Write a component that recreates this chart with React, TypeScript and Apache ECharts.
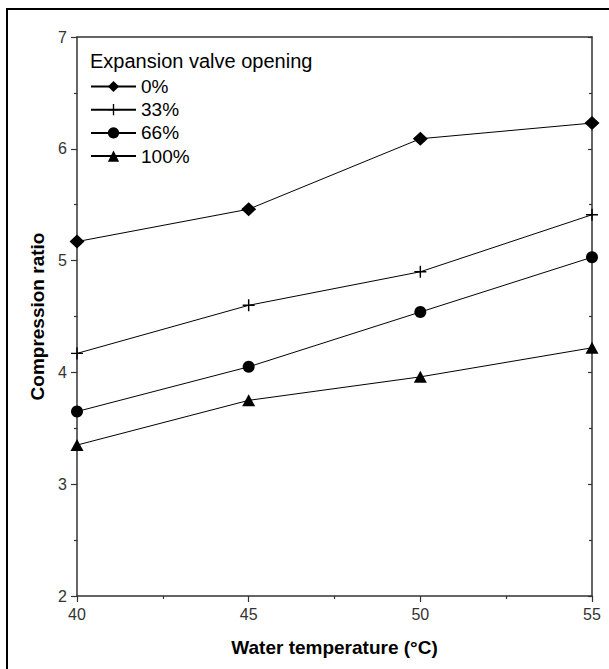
import React, { useEffect, useRef } from "react";
import * as echarts from "echarts";

const temperatures = [40, 45, 50, 55];
const seriesNames = ["0%", "33%", "66%", "100%"];
const valve0 = [5.17, 5.46, 6.09, 6.23];
const valve33 = [4.17, 4.6, 4.9, 5.41];
const valve66 = [3.65, 4.05, 4.54, 5.03];
const valve100 = [3.35, 3.75, 3.96, 4.22];
const legendTitle = "Expansion valve opening";
const xTitle = "Water temperature (\u00B0C)";
const yTitle = "Compression ratio";

const PLUS = "path://M44,0H56V44H100V56H56V100H44V56H0V44H44Z";

const FONT = "'Liberation Sans', Arial, sans-serif";

export default function App() {
  const ref = useRef<HTMLDivElement>(null);
  useEffect(() => {
    if (!ref.current) return;
    const chart = echarts.init(ref.current, null, { renderer: "svg" });
    const values = [valve0, valve33, valve66, valve100];
    const symbols = ["diamond", PLUS, "circle", "triangle"];
    const sizes = [[15, 14], 12, 12, [13, 12]];
    const series = values.map((vals, i) => ({
      name: seriesNames[i],
      type: "line",
      data: temperatures.map((t, j) => [t, vals[j]]),
      symbol: symbols[i],
      symbolSize: sizes[i],
      lineStyle: { color: "#000", width: 1 },
      itemStyle: { color: "#000" },
      z: 3,
    }));
    const axisLine = { show: true, lineStyle: { color: "#333", width: 1.5 } };
    chart.setOption({
      animation: false,
      backgroundColor: "#fff",
      textStyle: { fontFamily: FONT },
      grid: { left: 77, right: 17, top: 37, bottom: 73 },
      legend: {
        orient: "vertical",
        left: 85,
        top: 72,
        itemWidth: 45,
        itemHeight: 14,
        itemGap: 4.2,
        textStyle: { fontSize: 19, color: "#000", fontFamily: FONT },
        data: seriesNames,
      },
      graphic: [
        {
          type: "rect",
          shape: { x: 7, y: 9, width: 620, height: 680 },
          style: { fill: "none", stroke: "#000", lineWidth: 2 },
          silent: true,
        },
        {
          type: "text",
          left: 90,
          top: 51,
          style: { text: legendTitle, fontSize: 20, fill: "#000", fontFamily: FONT },
        },
      ],
      xAxis: [
        {
          type: "value",
          min: 40,
          max: 55,
          interval: 5,
          name: xTitle,
          nameLocation: "middle",
          nameGap: 42,
          nameTextStyle: { fontSize: 19, fontWeight: "bold", color: "#000", fontFamily: FONT },
          axisLine,
          axisTick: { show: true, length: 6, lineStyle: { color: "#333", width: 1.2 } },
          minorTick: { show: true, splitNumber: 2, length: 3, lineStyle: { color: "#333", width: 1.2 } },
          splitLine: { show: false },
          axisLabel: { fontSize: 16, color: "#333", margin: 10 },
        },
        {
          type: "value",
          position: "top",
          min: 40,
          max: 55,
          interval: 5,
          axisLine,
          axisTick: { show: false },
          axisLabel: { show: false },
          splitLine: { show: false },
        },
      ],
      yAxis: [
        {
          type: "value",
          min: 2,
          max: 7,
          interval: 1,
          name: yTitle,
          nameLocation: "middle",
          nameGap: 29,
          nameTextStyle: { fontSize: 19, fontWeight: "bold", color: "#000", fontFamily: FONT },
          axisLine,
          axisTick: { show: true, length: 6, lineStyle: { color: "#333", width: 1.2 } },
          minorTick: { show: true, splitNumber: 2, length: 3, lineStyle: { color: "#333", width: 1.2 } },
          splitLine: { show: false },
          axisLabel: { fontSize: 16, color: "#333", margin: 10 },
        },
        {
          type: "value",
          position: "right",
          min: 2,
          max: 7,
          interval: 1,
          axisLine,
          axisTick: { show: true, inside: true, length: 4, lineStyle: { color: "#333", width: 1.2 } },
          minorTick: { show: true, splitNumber: 2, length: 3, lineStyle: { color: "#333", width: 1.2 } },
          axisLabel: { show: false },
          splitLine: { show: false },
        },
      ],
      series,
    });
    return () => chart.dispose();
  }, []);
  return (
    <div
      ref={ref}
      style={{ position: "absolute", left: 0, top: 0, width: 609, height: 669 }}
    />
  );
}
